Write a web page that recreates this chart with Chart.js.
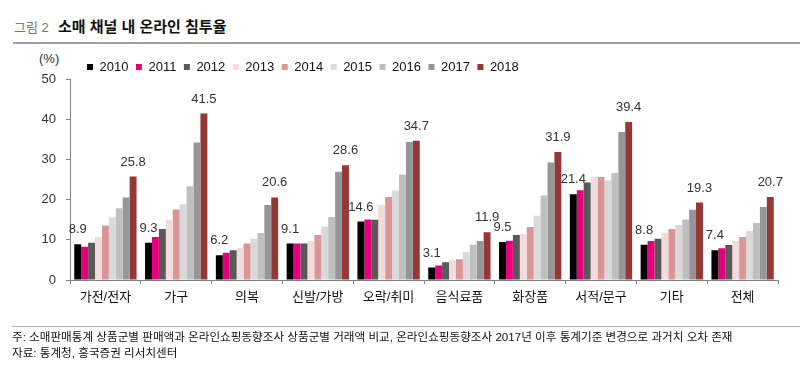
<!DOCTYPE html>
<html>
<head>
<meta charset="utf-8">
<script src="https://cdn.jsdelivr.net/npm/chart.js@4"></script>
<style>
  body { margin: 0; background: #fff; }
  #wrap { position: relative; width: 800px; height: 369px; overflow: hidden; font-family: "Liberation Sans", "Noto Sans CJK KR", sans-serif; }
  #chart { position: absolute; left: 0; top: 0; }
  .t { position: absolute; white-space: nowrap; }
</style>
</head>
<body>
<div id="wrap">
  <div class="t" style="left:14px;top:17px;font-size:13px;color:#777;">그림 2</div>
  <div class="t" style="left:58px;top:15px;font-size:15px;font-weight:bold;color:#111;">소매 채널 내 온라인 침투율</div>
  <div style="position:absolute;left:13px;top:42px;width:787px;height:2px;background:#a0a0a0;"></div>
  <div class="t" style="left:39px;top:51px;font-size:13px;color:#333;">(%)</div>
  <canvas id="chart" width="800" height="369"></canvas>
  <div style="position:absolute;left:12px;top:326px;width:788px;height:1px;background:#b0b0b0;"></div>
  <div class="t" style="left:12px;top:328px;font-size:11.6px;color:#111;">주: 소매판매통계 상품군별 판매액과 온라인쇼핑동향조사 상품군별 거래액 비교, 온라인쇼핑동향조사 2017년 이후 통계기준 변경으로 과거치 오차 존재</div>
  <div class="t" style="left:12px;top:344px;font-size:11.6px;color:#111;">자료: 통계청, 흥국증권 리서치센터</div>
</div>
<script>
// categories
const categories = ["가전/전자", "가구", "의복", "신발/가방", "오락/취미", "음식료품", "화장품", "서적/문구", "기타", "전체"];

// series values (%), one array per year
const y2010 = [8.9, 9.3, 6.2, 9.1, 14.6, 3.1, 9.5, 21.4, 8.8, 7.4];
const y2011 = [8.3, 10.7, 6.8, 9.1, 15.1, 3.6, 9.8, 22.4, 9.7, 7.9];
const y2012 = [9.3, 12.7, 7.4, 9.1, 15.0, 4.4, 11.2, 24.3, 10.3, 8.7];
const y2013 = [10.7, 15.0, 8.0, 9.7, 18.7, 4.9, 11.5, 25.7, 11.8, 9.7];
const y2014 = [13.6, 17.6, 9.1, 11.2, 20.7, 5.2, 13.2, 25.7, 12.7, 10.7];
const y2015 = [15.6, 18.9, 10.3, 13.3, 22.3, 7.0, 16.0, 24.9, 13.7, 12.2];
const y2016 = [17.9, 23.4, 11.7, 15.7, 26.3, 8.8, 21.1, 26.7, 15.1, 14.2];
const y2017 = [20.6, 34.3, 18.7, 27.0, 34.4, 9.7, 29.3, 36.9, 17.5, 18.2];
const y2018 = [25.8, 41.5, 20.6, 28.6, 34.7, 11.9, 31.9, 39.4, 19.3, 20.7];

const years = ["2010", "2011", "2012", "2013", "2014", "2015", "2016", "2017", "2018"];
const series = [y2010, y2011, y2012, y2013, y2014, y2015, y2016, y2017, y2018];
const colors = ["#000000", "#e6007e", "#595959", "#f2dcdb", "#d99694", "#d9d9d9", "#bfbfbf", "#969696", "#953735"];

// y axis ticks
const yMin = 0;
const yMax = 50;
const yStep = 10;

const font = "'Liberation Sans', 'Noto Sans CJK KR', sans-serif";

const datasets = series.map((data, i) => ({
  label: years[i],
  data: data,
  backgroundColor: colors[i],
  borderWidth: 0,
  categoryPercentage: 0.88,
  barPercentage: 1.0
}));

// value labels on first and last year of each group
const valueLabels = {
  id: "valueLabels",
  afterDatasetsDraw(chart) {
    const ctx = chart.ctx;
    ctx.save();
    ctx.font = "13px " + font;
    ctx.fillStyle = "#333";
    ctx.textAlign = "center";
    ctx.textBaseline = "bottom";
    [0, series.length - 1].forEach(di => {
      chart.getDatasetMeta(di).data.forEach((bar, j) => {
        ctx.fillText(series[di][j].toFixed(1), bar.x, bar.y - 8);
      });
    });
    ctx.restore();
  }
};

// move legend to where the original had it
const legendShift = {
  id: "legendShift",
  afterLayout(chart) {
    const lg = chart.legend;
    const pad = lg.options.labels.padding;
    const dx = 87 - (lg.left + pad);
    lg.left += dx;
    lg.right += dx;
    lg.top += 4;
    lg.bottom += 4;
  }
};

new Chart(document.getElementById("chart"), {
  type: "bar",
  data: { labels: categories, datasets },
  plugins: [valueLabels, legendShift],
  options: {
    responsive: false,
    animation: false,
    layout: { padding: { left: 0, right: 22, top: 49, bottom: 65 } },
    plugins: {
      tooltip: { enabled: false },
      legend: {
        position: "top",
        align: "start",
        labels: {
          boxWidth: 6,
          boxHeight: 6,
          padding: 7.5,
          color: "#111",
          font: { size: 13, family: font }
        }
      }
    },
    scales: {
      x: {
        offset: true,
        grid: { display: true, drawOnChartArea: false, drawTicks: true, tickLength: 4, offset: true, color: "#808080" },
        border: { display: true, color: "#808080", width: 1 },
        ticks: { color: "#111", font: { size: 13, family: font }, padding: 6, maxRotation: 0 },
        afterFit(s) { s.height = 24; }
      },
      y: {
        min: yMin,
        max: yMax,
        grid: { display: true, drawOnChartArea: false, drawTicks: true, tickLength: 4, color: "#808080" },
        border: { display: true, color: "#808080", width: 1 },
        ticks: { stepSize: yStep, color: "#333", font: { size: 13, family: font }, padding: 10 },
        afterFit(s) { s.width = 70; }
      }
    }
  }
});
</script>
</body>
</html>
